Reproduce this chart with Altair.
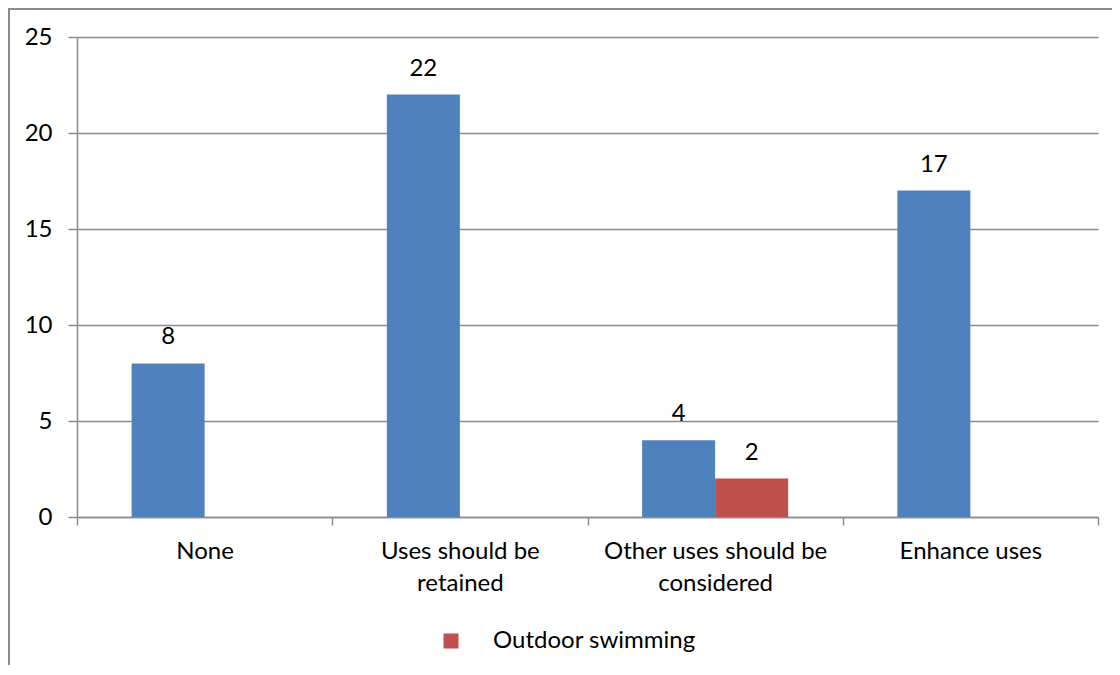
import altair as alt
import pandas as pd

categories = ["None", "Uses should be retained", "Other uses should be considered", "Enhance uses"]
wrapped = {
    "Uses should be retained": ["Uses should be", "retained"],
    "Other uses should be considered": ["Other uses should be", "considered"],
}
series_names = ["Series1", "Outdoor swimming"]
blue_values = [8, 22, 4, 17]
red_values = [0, 0, 2, 0]

rows = []
for c, b, r in zip(categories, blue_values, red_values):
    rows.append({"category": c, "series": series_names[0], "value": b})
    rows.append({"category": c, "series": series_names[1], "value": r})
df = pd.DataFrame(rows)

FONT = "Lato"
FS = 24
GRID = "#8c8c8c"

expr = "datum.label"
for k, v in wrapped.items():
    expr = f"datum.label == '{k}' ? ['{v[0]}', '{v[1]}'] : ({expr})"

x = alt.X("category:N", sort=categories, title=None,
          scale=alt.Scale(paddingInner=0, paddingOuter=0),
          axis=alt.Axis(labelAngle=0, labelExpr=expr, labelFontSize=FS, labelFont=FONT,
                        labelColor="black", labelPadding=14, labelLineHeight=32, labelLimit=0,
                        tickBand="extent", tickSize=8, tickColor=GRID, domainColor=GRID,
                        tickWidth=1.5, domainWidth=1.5, labelBaseline="top"))
xoff = alt.XOffset("series:N", sort=series_names,
                   scale=alt.Scale(domain=series_names, paddingInner=0, paddingOuter=0.748))
y = alt.Y("value:Q", title=None,
          scale=alt.Scale(domain=[0, 25], nice=False),
          axis=alt.Axis(values=[0, 5, 10, 15, 20, 25], labelFontSize=FS, labelFont=FONT,
                        labelColor="black", labelPadding=16, tickSize=9, tickColor=GRID,
                        gridColor=GRID, gridWidth=1.5, tickWidth=1.5, domainColor=GRID,
                        domainWidth=1.5))
color = alt.Color("series:N", sort=series_names,
                  scale=alt.Scale(domain=series_names, range=["#4F81BD", "#C0504D"]),
                  legend=alt.Legend(values=["Outdoor swimming"], title=None, orient="none",
                                    legendX=362, legendY=592, symbolType="square",
                                    symbolSize=225, symbolStrokeWidth=0, labelFont=FONT,
                                    labelFontSize=FS, labelColor="black", labelOffset=30,
                                    labelLimit=0, padding=0))

base = alt.Chart(df).transform_filter("datum.value > 0")
bars = base.mark_bar().encode(x=x, xOffset=xoff, y=y, color=color)
labels = base.mark_text(dy=-19, baseline="alphabetic", align="center", font=FONT,
                        fontSize=FS, color="black").encode(
    x=alt.X("category:N", sort=categories), xOffset=xoff, y="value:Q", text="value:Q")

border_df = pd.DataFrame({"k": [0]})
left_border = alt.Chart(border_df).mark_rule(color=GRID, strokeWidth=2).encode(
    x=alt.value(-68), y=alt.value(-29), y2=alt.value(660))
top_border = alt.Chart(border_df).mark_rule(color=GRID, strokeWidth=2).encode(
    x=alt.value(-69), x2=alt.value(1040), y=alt.value(-28))

chart = alt.layer(bars, labels, left_border, top_border).properties(
    width=1021, height=480,
    autosize=alt.AutoSizeParams(type="none"),
    padding={"left": 69, "top": 29, "right": 14, "bottom": 148},
).configure_view(stroke=None)

chart.save("out.html", embed_options={"renderer": "svg", "actions": False})
